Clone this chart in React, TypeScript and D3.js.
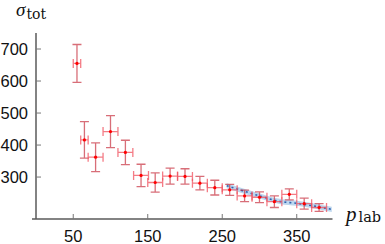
import React, { useRef, useEffect } from 'react';
import * as d3 from 'd3';

// measured points (p_lab, sigma_tot) with errors
const pLab = [55, 65, 80, 100, 120, 141, 160, 180, 200, 220, 240, 260, 280, 300, 320, 340, 360, 380];
const pErr = [5, 5, 10, 10, 10, 10, 10, 10, 10, 10, 10, 10, 10, 10, 10, 10, 10, 10];
const sigma = [655, 416, 362, 442, 377, 305, 283, 303, 302, 281, 267, 260, 241, 237, 223, 246, 217, 205];
const sigmaErr = [59, 57, 45, 50, 38, 35, 30, 25, 24, 21, 23, 17, 18, 17, 18, 17, 17, 12];

// fit curve
const fitP = [256, 296, 327, 350, 397];
const fitSigma = [273, 244, 224, 218, 199];
const fitBand = 8;

const xTicks = [50, 150, 250, 350];
const yTicks = [300, 400, 500, 600, 700];

const App = () => {
  const svgRef = useRef(null);

  useEffect(() => {
    const svg = d3.select(svgRef.current);
    svg.selectAll("*").remove();

    const x = d3.scaleLinear().domain([0, 398]).range([36, 332.5]);
    const y = d3.scaleLinear().domain([169, 750]).range([219, 33]);

    const axisColor = "#5a5a5a";

    // axes
    svg.append("line")
      .attr("x1", 36).attr("x2", 36)
      .attr("y1", y(750)).attr("y2", y(169))
      .attr("stroke", axisColor).attr("stroke-width", 1.5);
    svg.append("line")
      .attr("x1", 32).attr("x2", x(398))
      .attr("y1", y(169)).attr("y2", y(169))
      .attr("stroke", axisColor).attr("stroke-width", 1.5);

    // ticks (inward)
    svg.append("g").selectAll("line")
      .data(yTicks)
      .join("line")
      .attr("x1", 36).attr("x2", 41)
      .attr("y1", d => y(d)).attr("y2", d => y(d))
      .attr("stroke", "#777").attr("stroke-width", 1);
    svg.append("g").selectAll("line")
      .data(xTicks)
      .join("line")
      .attr("x1", d => x(d)).attr("x2", d => x(d))
      .attr("y1", y(169)).attr("y2", y(169) - 5)
      .attr("stroke", "#777").attr("stroke-width", 1);

    // tick labels
    svg.append("g")
      .style("font-family", "'Liberation Sans', Arial, sans-serif")
      .style("font-size", "16.5px")
      .selectAll("text")
      .data(yTicks)
      .join("text")
      .attr("x", 28)
      .attr("y", d => y(d))
      .attr("dy", "0.36em")
      .attr("text-anchor", "end")
      .attr("fill", "#111")
      .text(d => d);
    svg.append("g")
      .style("font-family", "'Liberation Sans', Arial, sans-serif")
      .style("font-size", "16.5px")
      .selectAll("text")
      .data(xTicks)
      .join("text")
      .attr("x", d => x(d))
      .attr("y", 242)
      .attr("text-anchor", "middle")
      .attr("fill", "#111")
      .text(d => d);

    // axis titles
    const sig = svg.append("text")
      .attr("x", 16).attr("y", 16)
      .attr("fill", "#111");
    sig.append("tspan")
      .style("font-family", "'Liberation Serif', 'Times New Roman', serif")
      .style("font-style", "italic").style("font-size", "19px").text("σ");
    sig.append("tspan")
      .attr("dx", 1).attr("dy", 3)
      .style("font-family", "'DejaVu Serif', serif")
      .style("font-size", "14px").text("tot");

    const pl = svg.append("text")
      .attr("x", 346).attr("y", 221)
      .attr("fill", "#111");
    pl.append("tspan")
      .style("font-family", "'Liberation Serif', 'Times New Roman', serif")
      .style("font-style", "italic").style("font-size", "21px").text("p");
    pl.append("tspan")
      .attr("dx", 2).attr("dy", 1)
      .style("font-family", "'DejaVu Serif', serif")
      .style("font-size", "14.5px").text("lab");

    // fit band and line
    const fit = fitP.map((p, i) => ({ p, s: fitSigma[i] }));
    svg.append("path")
      .datum(fit)
      .attr("fill", "#a6c8e8")
      .attr("fill-opacity", 0.75)
      .attr("d", d3.area()
        .x(d => x(d.p))
        .y0(d => y(d.s - fitBand))
        .y1(d => y(d.s + fitBand))
        .curve(d3.curveMonotoneX));
    svg.append("path")
      .datum(fit)
      .attr("fill", "none")
      .attr("stroke", "#2f62b0")
      .attr("stroke-width", 1.6)
      .attr("stroke-dasharray", "2,3")
      .attr("d", d3.line()
        .x(d => x(d.p))
        .y(d => y(d.s))
        .curve(d3.curveMonotoneX));

    // error bars
    const pts = pLab.map((p, i) => ({ p, dp: pErr[i], s: sigma[i], ds: sigmaErr[i] }));
    const cap = 4.5;
    const g = svg.append("g");
    const bars = g.selectAll("g").data(pts).join("g");

    bars.append("path")
      .attr("fill", "none")
      .attr("stroke", "#f0505e")
      .attr("stroke-opacity", 0.75)
      .attr("stroke-width", 1.3)
      .attr("d", d => {
        const x0 = x(d.p - d.dp), x1 = x(d.p + d.dp), yc = y(d.s);
        return `M${x0},${yc}H${x1}M${x0},${yc - cap}V${yc + cap}M${x1},${yc - cap}V${yc + cap}`;
      });
    bars.append("path")
      .attr("fill", "none")
      .attr("stroke", "#c8303e")
      .attr("stroke-opacity", 0.7)
      .attr("stroke-width", 1.3)
      .attr("d", d => {
        const xc = x(d.p), y0 = y(d.s - d.ds), y1 = y(d.s + d.ds);
        return `M${xc},${y0}V${y1}M${xc - cap},${y0}H${xc + cap}M${xc - cap},${y1}H${xc + cap}`;
      });
    bars.append("circle")
      .attr("cx", d => x(d.p))
      .attr("cy", d => y(d.s))
      .attr("r", 1.6)
      .attr("fill", "#ff0000");
  }, []);

  return (
    <svg
      ref={svgRef}
      width={385}
      height={244}
      style={{ position: 'absolute', left: 0, top: 0, background: '#fff' }}
    />
  );
};

export default App;
